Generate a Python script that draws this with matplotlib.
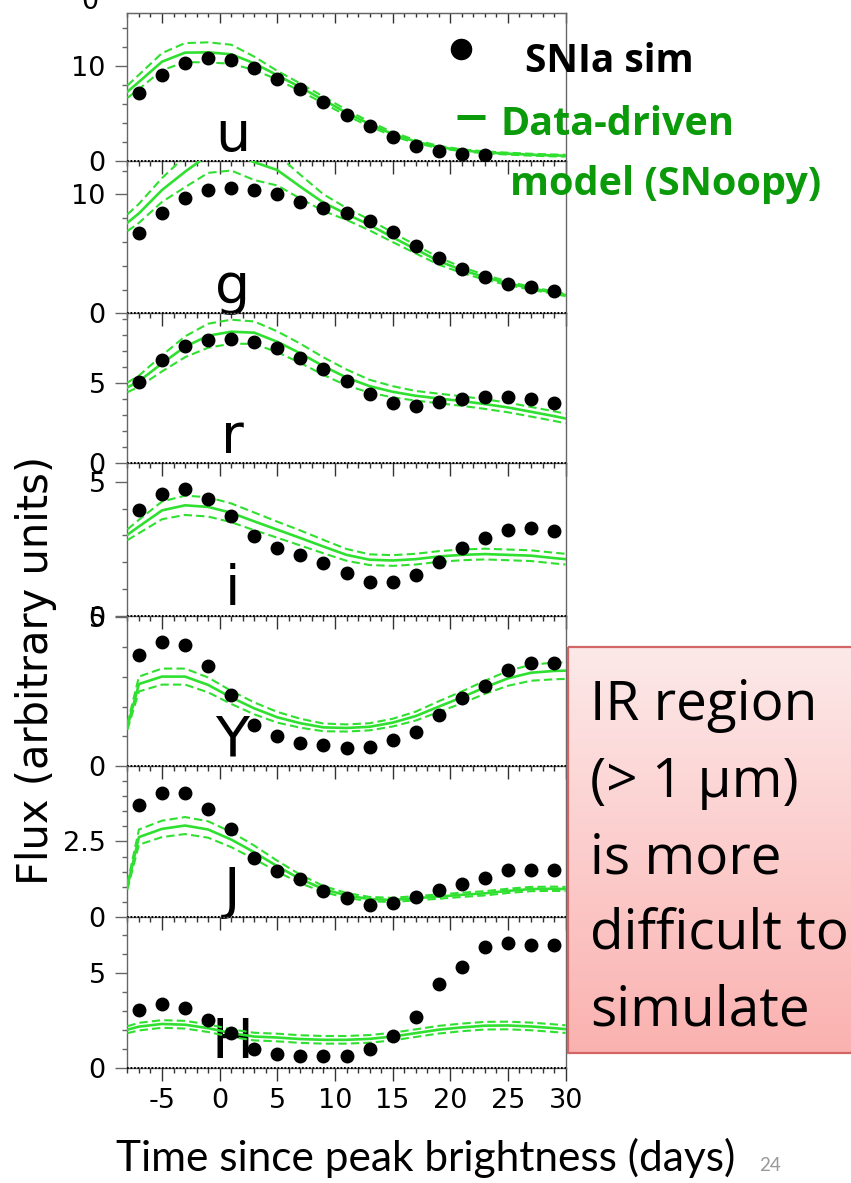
import numpy as np
import matplotlib
matplotlib.use("Agg")
import matplotlib.pyplot as plt
from matplotlib.ticker import FixedLocator, MultipleLocator, FixedFormatter
from matplotlib.patches import Rectangle
import matplotlib.transforms as mtransforms

plt.rcParams["axes.unicode_minus"] = False

W, H = 851, 1183
DPI = 100

# ---------------- data ----------------
bands = ["u", "g", "r", "i", "Y", "J", "H"]

t_sim = [-7, -5, -3, -1, 1, 3, 5, 7, 9, 11, 13, 15, 17, 19, 21, 23, 25, 27, 29]
sim_u = [7.17, 8.99, 10.25, 10.84, 10.6, 9.79, 8.6, 7.52, 6.16, 4.83, 3.67, 2.55, 1.61, 1.05, 0.73, 0.6]
sim_g = [6.72, 8.4, 9.66, 10.36, 10.5, 10.36, 10.0, 9.38, 8.87, 8.4, 7.78, 6.86, 5.68, 4.62, 3.72, 3.08, 2.46, 2.18, 1.9]
sim_r = [5.1, 6.46, 7.33, 7.7, 7.77, 7.56, 7.19, 6.6, 5.9, 5.14, 4.31, 3.79, 3.6, 3.85, 4.02, 4.16, 4.16, 4.02, 3.75]
sim_i = [3.93, 4.55, 4.71, 4.36, 3.73, 2.96, 2.52, 2.27, 1.96, 1.59, 1.27, 1.27, 1.52, 2.0, 2.52, 2.9, 3.21, 3.27, 3.17]
sim_Y = [3.74, 4.19, 4.07, 3.37, 2.39, 1.38, 1.01, 0.79, 0.71, 0.6, 0.65, 0.88, 1.16, 1.72, 2.28, 2.69, 3.23, 3.46, 3.48]
sim_J = [3.69, 4.1, 4.1, 3.58, 2.89, 1.95, 1.53, 1.26, 0.85, 0.63, 0.41, 0.48, 0.68, 0.9, 1.1, 1.31, 1.57, 1.57, 1.57]
sim_H = [3.07, 3.37, 3.16, 2.54, 1.84, 1.02, 0.75, 0.65, 0.65, 0.65, 1.02, 1.7, 2.66, 4.42, 5.3, 6.35, 6.53, 6.44, 6.44]

t_model = [-8, -7, -5, -3, -1, 1, 3, 5, 7, 9, 11, 13, 15, 17, 19, 21, 23, 25, 27, 29, 30]
model_u = [7.27, 8.3, 10.42, 11.37, 11.4, 11.2, 10.25, 9.0, 7.73, 6.4, 5.07, 3.88, 2.83, 2.03, 1.47, 1.12, 0.91, 0.77, 0.66, 0.58, 0.56]
model_g = [7.61, 8.4, 10.36, 11.9, 13.3, 13.6, 12.7, 12.04, 10.64, 9.3, 8.35, 7.42, 6.39, 5.38, 4.39, 3.64, 3.03, 2.52, 2.1, 1.73, 1.54]
model_r = [4.75, 5.14, 6.25, 7.29, 7.98, 8.23, 8.17, 7.6, 6.88, 6.08, 5.37, 4.83, 4.48, 4.23, 4.06, 3.9, 3.71, 3.5, 3.23, 2.96, 2.81]
model_i = [3.02, 3.33, 3.93, 4.12, 4.06, 3.84, 3.52, 3.21, 2.9, 2.58, 2.27, 2.09, 2.06, 2.11, 2.21, 2.27, 2.3, 2.27, 2.24, 2.15, 2.11]
model_Y = [1.32, 2.76, 3.01, 3.01, 2.73, 2.31, 1.94, 1.64, 1.44, 1.3, 1.28, 1.32, 1.46, 1.68, 2.0, 2.31, 2.65, 2.95, 3.14, 3.2, 3.21]
model_J = [1.01, 2.64, 2.91, 3.02, 2.89, 2.56, 2.14, 1.68, 1.26, 0.93, 0.72, 0.6, 0.57, 0.63, 0.68, 0.74, 0.79, 0.87, 0.93, 0.94, 0.93]
model_H = [2.02, 2.18, 2.32, 2.28, 2.1, 1.84, 1.66, 1.61, 1.53, 1.49, 1.49, 1.54, 1.66, 1.84, 2.02, 2.14, 2.23, 2.24, 2.19, 2.1, 2.05]

err_u = [0.65, 0.75, 0.9, 1.0, 1.05, 1.0, 0.7, 0.45, 0.4, 0.35, 0.3, 0.25, 0.2, 0.15, 0.12, 0.1, 0.1, 0.1, 0.1, 0.1, 0.1]
err_g = [0.7, 0.8, 1.0, 1.3, 1.5, 1.6, 1.5, 1.3, 1.0, 0.7, 0.5, 0.45, 0.4, 0.35, 0.3, 0.25, 0.2, 0.15, 0.12, 0.1, 0.1]
err_r = [0.3, 0.35, 0.5, 0.65, 0.75, 0.75, 0.7, 0.65, 0.6, 0.55, 0.5, 0.4, 0.35, 0.3, 0.3, 0.3, 0.3, 0.3, 0.3, 0.3, 0.3]
err_i = [0.2, 0.25, 0.33, 0.36, 0.36, 0.35, 0.33, 0.3, 0.28, 0.25, 0.22, 0.2, 0.2, 0.2, 0.2, 0.2, 0.2, 0.2, 0.2, 0.2, 0.2]
err_Y = [0.1, 0.25, 0.27, 0.27, 0.25, 0.22, 0.2, 0.18, 0.15, 0.13, 0.12, 0.12, 0.13, 0.15, 0.18, 0.2, 0.22, 0.25, 0.27, 0.28, 0.28]
err_J = [0.1, 0.25, 0.27, 0.28, 0.27, 0.25, 0.22, 0.18, 0.14, 0.1, 0.08, 0.07, 0.07, 0.07, 0.07, 0.07, 0.07, 0.07, 0.07, 0.07, 0.07]
err_H = [0.18, 0.2, 0.2, 0.2, 0.2, 0.2, 0.2, 0.2, 0.2, 0.2, 0.2, 0.2, 0.2, 0.2, 0.2, 0.2, 0.2, 0.2, 0.2, 0.2, 0.2]

y_top = [15.56, 12.8, 9.38, 5.68, 5.06, 4.98, 7.9]
y_major = [[0, 10], [0, 10], [0, 5], [0, 5], [0, 5], [0, 2.5], [0, 5]]
y_major_labels = [["0", "10"], ["0", "10"], ["0", "5"], ["0", "5"], ["0", "5"], ["0", "2.5"], ["0", "5"]]
y_minor_step = [2, 2, 1, 1, 1, 0.5, 1]
x_major = [-5, 0, 5, 10, 15, 20, 25, 30]

sims = [sim_u, sim_g, sim_r, sim_i, sim_Y, sim_J, sim_H]
models = [model_u, model_g, model_r, model_i, model_Y, model_J, model_H]
errs = [err_u, err_g, err_r, err_i, err_Y, err_J, err_H]

# ---------------- layout ----------------
bounds_px = [12.7, 161, 313.3, 463.5, 615.7, 766, 917.3, 1068.3]
left_px, right_px = 127.4, 565.6

GREEN = "#30e030"
DKGREEN = "#0a9a0a"
SPINE = "#666666"
NUMFONT = "DejaVu Sans"
SLIDEFONT = "Open Sans"
XLFONT = "Lato"
TICKSIZE = 19.5

fig = plt.figure(figsize=(W / DPI, H / DPI), dpi=DPI)
fig.patch.set_facecolor("white")

axes = []
for k, band in enumerate(bands):
    top, bot = bounds_px[k], bounds_px[k + 1]
    ax = fig.add_axes([left_px / W, 1 - bot / H, (right_px - left_px) / W, (bot - top) / H])
    ax.patch.set_visible(False)
    ax.set_xlim(-8, 30)
    ax.set_ylim(0, y_top[k])

    t = np.array(t_model)
    m = np.array(models[k])
    e = np.array(errs[k])
    ax.plot(t, m, color=GREEN, lw=1.9, zorder=3)
    ax.plot(t, m + e, color=GREEN, lw=1.5, ls=(0, (4, 2)), zorder=3)
    ax.plot(t, m - e, color=GREEN, lw=1.5, ls=(0, (4, 2)), zorder=3)
    ax.plot(t_sim[:len(sims[k])], sims[k], "o", color="black", ms=9, mec="black", zorder=4)

    # dotted baseline at zero
    ax.axhline(0, color="black", lw=1.4, ls=(0, (0.9, 0.9)), clip_on=False, zorder=5)

    # band letters
    trans = mtransforms.blended_transform_factory(ax.transData, ax.transAxes)
    ax.text(1.1, 0.07, band, transform=trans, ha="center", va="baseline",
            fontsize=40, family=NUMFONT, color="black", zorder=2)

    # y ticks
    ax.yaxis.set_major_locator(FixedLocator(y_major[k]))
    ax.yaxis.set_major_formatter(FixedFormatter(y_major_labels[k]))
    ax.yaxis.set_minor_locator(MultipleLocator(y_minor_step[k]))
    ax.tick_params(axis="y", which="major", direction="out", length=8.5, width=1,
                   color=SPINE, labelsize=TICKSIZE, pad=7)
    ax.tick_params(axis="y", which="minor", direction="out", length=3.6, width=1, color=SPINE)
    for lab in ax.get_yticklabels():
        lab.set_family(NUMFONT)

    # x ticks
    ax.xaxis.set_major_locator(FixedLocator(x_major))
    ax.xaxis.set_minor_locator(MultipleLocator(1))
    ax.tick_params(axis="x", which="major", direction="out", length=9, width=1,
                   color="#333333", labelsize=TICKSIZE, pad=5, bottom=True, top=False,
                   labelbottom=(k == len(bands) - 1))
    ax.tick_params(axis="x", which="minor", direction="out", length=3.5, width=1,
                   color="#333333", bottom=True, top=False)
    for lab in ax.get_xticklabels():
        lab.set_family(NUMFONT)

    for s in ax.spines.values():
        s.set_color(SPINE)
        s.set_linewidth(1.0)
    if k > 0:
        ax.spines["top"].set_visible(False)
    axes.append(ax)

# top ticks on the first panel (pointing inward)
sec = axes[0].secondary_xaxis("top")
sec.xaxis.set_major_locator(FixedLocator(x_major))
sec.xaxis.set_minor_locator(MultipleLocator(1))
sec.tick_params(axis="x", which="major", direction="in", length=7, width=1, color="#333333",
                labeltop=False)
sec.tick_params(axis="x", which="minor", direction="in", length=3, width=1, color="#333333")
sec.spines["top"].set_color(SPINE)

# ---------------- overlay for slide annotations ----------------
ov = fig.add_axes([0, 0, 1, 1], zorder=10)
ov.patch.set_visible(False)
ov.axis("off")

# legend
ov.plot([460.7], [49.3], "o", color="black", ms=14.5)
ov.plot([457, 485], [117, 117], color=DKGREEN, lw=3.6, solid_capstyle="butt")
ov.text(525, 71.7, "SNIa sim", fontsize=28, fontweight="bold", family=SLIDEFONT,
        color="black", va="baseline", ha="left")
ov.text(501, 135, "Data-driven", fontsize=28.5, fontweight="bold", family=SLIDEFONT,
        color=DKGREEN, va="baseline", ha="left")
ov.text(510, 195, "model (SNoopy)", fontsize=28.5, fontweight="bold", family=SLIDEFONT,
        color=DKGREEN, va="baseline", ha="left")

# red note box with vertical gradient
top_c = np.array([253, 233, 233]) / 255.0
bot_c = np.array([250, 178, 176]) / 255.0
fr = np.linspace(0, 1, 256)[:, None]
grad = (top_c[None, :] * (1 - fr) + bot_c[None, :] * fr)[:, None, :]
ov.imshow(grad, extent=[568, 880, 1053, 647], aspect="auto", interpolation="bilinear", zorder=1)
ov.add_patch(Rectangle((568, 647), 312, 406, fill=False, ec="#d46565", lw=1.6, zorder=2))
note_lines = ["IR region", "(> 1 \u00b5m)", "is more", "difficult to", "simulate"]
note_base = [720, 796.7, 873.3, 948.3, 1025]
for line, yb in zip(note_lines, note_base):
    ov.text(590, yb, line, fontsize=39.5, family=SLIDEFONT, color="black",
            va="baseline", ha="left", zorder=3)

# axis titles
ov.text(36, 670, "Flux (arbitrary units)", fontsize=30, family=NUMFONT, rotation=90,
        ha="center", va="center", color="black")
ov.text(116, 1171, "Time since peak brightness (days)", fontsize=30.5, family=XLFONT,
        ha="left", va="baseline", color="black")
ov.text(759, 1171, "24", fontsize=13.5, family=XLFONT, ha="left", va="baseline", color="#999999")
# clipped tick label at the very top
ov.text(90, 9, "0", fontsize=TICKSIZE, family=NUMFONT, ha="center", va="baseline", color="black")

ov.set_xlim(0, W)
ov.set_ylim(H, 0)

fig.savefig("out.png", dpi=DPI)
